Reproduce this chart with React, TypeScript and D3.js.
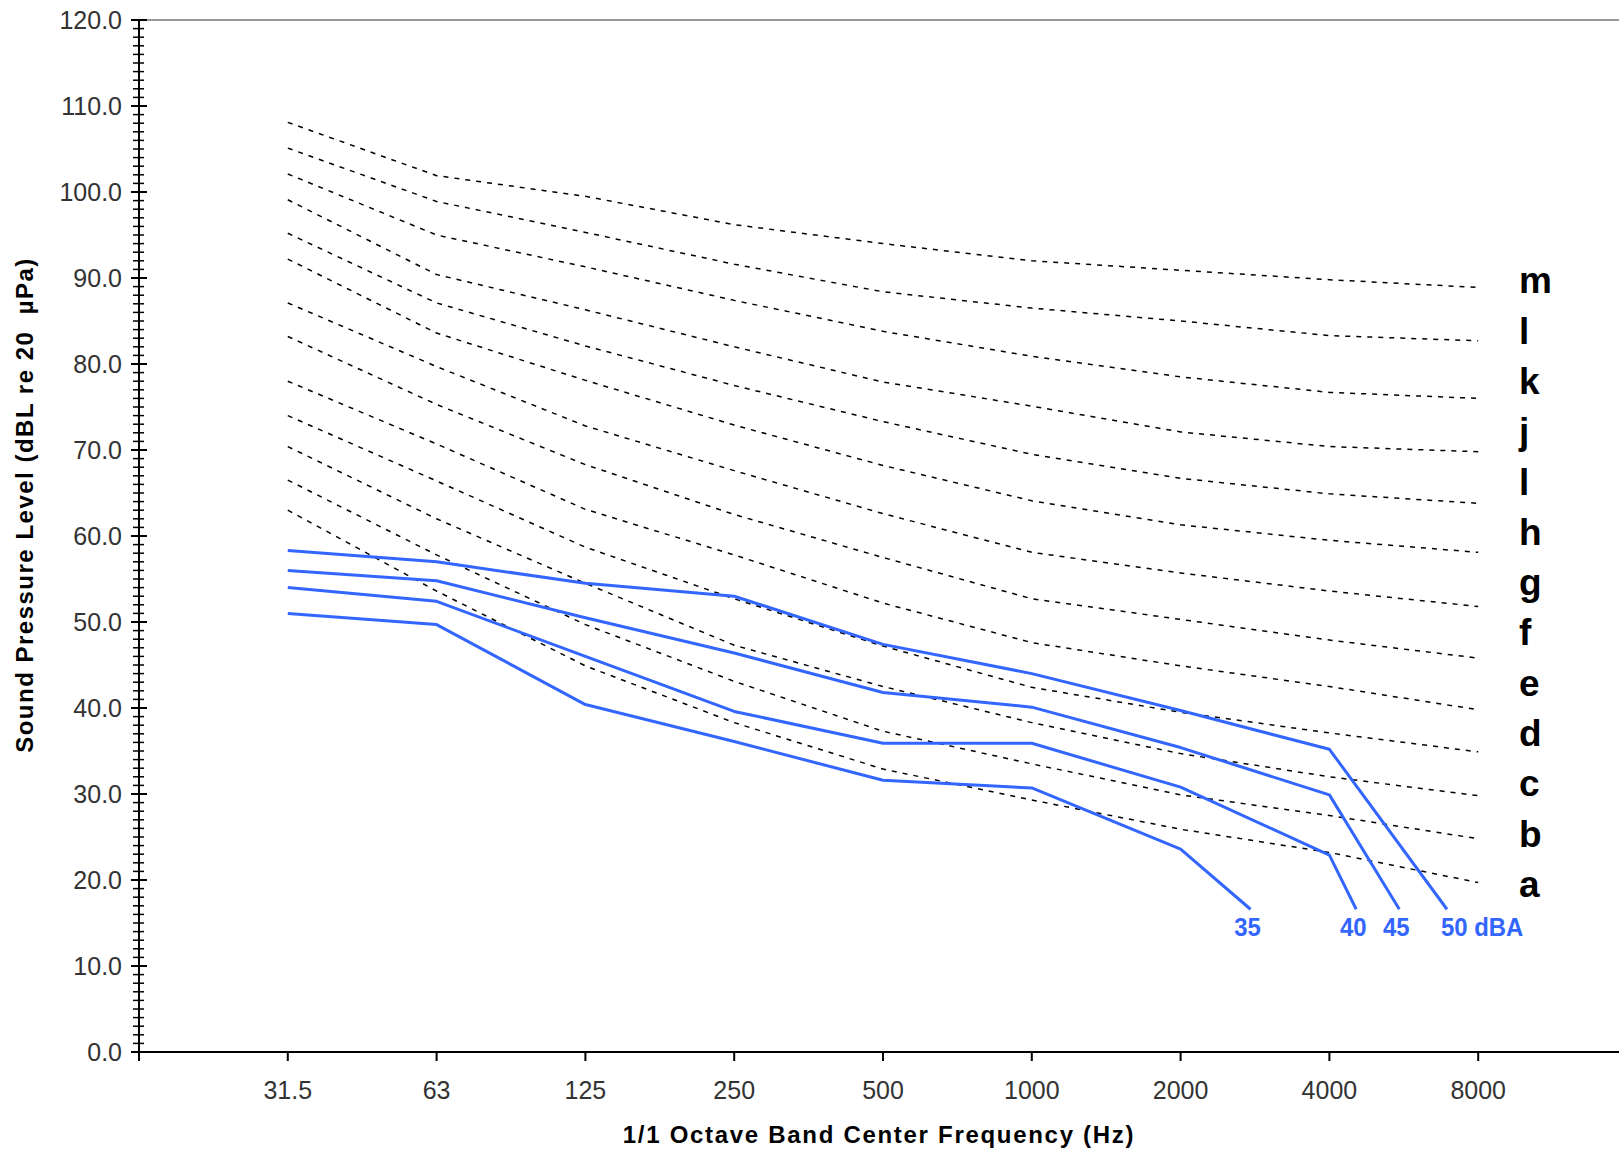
import React from 'react';
import * as d3 from 'd3';

// octave band centre frequencies, drawn at band index 1..9
const bands = ['31.5', '63', '125', '250', '500', '1000', '2000', '4000', '8000'];
const yTicks = [0, 10, 20, 30, 40, 50, 60, 70, 80, 90, 100, 110, 120];

// criteria curves (dashed), levels at each band, a = lowest
const curveA = [63.0, 53.6, 44.9, 38.3, 32.9, 29.3, 25.9, 23.2, 19.7];
const curveB = [66.5, 57.8, 49.7, 43.1, 37.3, 33.5, 29.9, 27.5, 24.8];
const curveC = [70.4, 62.0, 54.5, 47.3, 42.5, 38.3, 34.7, 32.0, 29.8];
const curveD = [74.0, 66.4, 58.7, 52.7, 47.2, 42.4, 39.5, 37.1, 34.9];
const curveE = [78.0, 70.7, 63.1, 57.8, 52.2, 47.6, 44.9, 42.5, 39.8];
const curveF = [83.2, 75.3, 68.3, 62.5, 57.5, 52.7, 50.3, 47.9, 45.8];
const curveG = [87.1, 79.7, 72.8, 67.6, 62.6, 58.1, 55.7, 53.6, 51.8];
const curveH = [92.2, 83.6, 78.1, 72.9, 68.2, 64.1, 61.3, 59.5, 58.1];
const curveI = [95.2, 87.1, 82.1, 77.5, 73.3, 69.5, 66.7, 64.9, 63.8];
const curveJ = [99.1, 90.4, 86.3, 82.0, 77.9, 75.1, 72.1, 70.4, 69.8];
const curveK = [102.1, 95.0, 91.3, 87.4, 83.8, 80.9, 78.5, 76.7, 76.0];
const curveL = [105.1, 98.9, 95.3, 91.6, 88.4, 86.5, 85.0, 83.3, 82.7];
const curveM = [108.1, 101.9, 99.5, 96.2, 94.0, 92.0, 90.9, 89.8, 88.9];
const curves = [curveA, curveB, curveC, curveD, curveE, curveF, curveG, curveH, curveI, curveJ, curveK, curveL, curveM];
const curveNames = ['a', 'b', 'c', 'd', 'e', 'f', 'g', 'h', 'l', 'j', 'k', 'l', 'm'];

// dBA contours (blue), levels at bands from 31.5 Hz, then an end point
const dba35 = [51.0, 49.7, 40.4, 36.1, 31.6, 30.7, 23.6];
const dba40 = [54.0, 52.4, 46.0, 39.6, 35.9, 35.9, 30.8, 22.9];
const dba45 = [56.0, 54.8, 50.5, 46.4, 41.8, 40.1, 35.4, 29.9];
const dba50 = [58.3, 57.0, 54.5, 53.0, 47.4, 44.0, 39.7, 35.2];
const dbaSeries = [dba35, dba40, dba45, dba50];
const dbaLabels = ['35', '40', '45', '50 dBA'];
const dbaEndBand = [7.47, 8.18, 8.47, 8.79];
const dbaEndLevel = 16.6;

const W = 1619;
const H = 1151;
const font = '"Liberation Sans", Arial, sans-serif';
const blue = '#3366ff';

export default function App() {
  const x = d3.scaleLinear().domain([0, 10]).range([139, 1627]);
  const y = d3.scaleLinear().domain([0, 120]).range([1052, 20]);

  const line = d3.line<[number, number]>()
    .x(d => x(d[0]))
    .y(d => y(d[1]));

  const minor = d3.range(0, 121, 1);

  return (
    <svg width={W} height={H} style={{ position: 'absolute', left: 0, top: 0, background: '#fff' }}>
      {/* top frame */}
      <line x1={x(0)} x2={W} y1={y(120)} y2={y(120)} stroke="#999" strokeWidth={2} />

      {/* dashed criteria curves */}
      {curves.map((c, i) => (
        <path key={i} d={line(c.map((v, j) => [j + 1, v]) as [number, number][]) || ''}
          fill="none" stroke="#000" strokeWidth={1.5} strokeDasharray="5,6" />
      ))}

      {/* curve letters */}
      {curveNames.map((n, i) => (
        <text key={i} x={1519} y={280 + (curveNames.length - 1 - i) * 50.3} dy="0.36em"
          fontFamily={font} fontWeight="bold" fontSize={37} fill="#000">{n}</text>
      ))}

      {/* dBA contours */}
      {dbaSeries.map((s, i) => {
        const pts = s.map((v, j) => [j + 1, v] as [number, number]);
        pts.push([dbaEndBand[i], dbaEndLevel]);
        return <path key={i} d={line(pts) || ''} fill="none" stroke={blue} strokeWidth={3} strokeLinejoin="round" />;
      })}
      {dbaLabels.map((t, i) => {
        const ex = x(dbaEndBand[i]);
        const last = i === dbaLabels.length - 1;
        return (
          <text key={i} transform={`translate(${last ? ex - 6 : ex - 3},936) scale(0.92,1)`}
            textAnchor={last ? 'start' : 'middle'} fontFamily={font} fontWeight="bold"
            fontSize={26} fill={blue} style={{ whiteSpace: 'pre' }}>{t}</text>
        );
      })}

      {/* y axis */}
      <line x1={x(0)} x2={x(0)} y1={y(0)} y2={y(120)} stroke="#000" strokeWidth={2} />
      {minor.map(v => (
        v % 10 === 0
          ? <line key={v} x1={x(0) - 8} x2={x(0) + 8} y1={y(v)} y2={y(v)} stroke="#000" strokeWidth={2} />
          : <line key={v} x1={x(0) - 6} x2={x(0) + 5} y1={y(v)} y2={y(v)} stroke="#000" strokeWidth={1.5} />
      ))}
      {yTicks.map(v => (
        <text key={v} x={122} y={y(v)} dy="0.36em" textAnchor="end" fontFamily={font}
          fontSize={25} fill="#333">{v.toFixed(1)}</text>
      ))}

      {/* x axis */}
      <line x1={x(0)} x2={W} y1={y(0)} y2={y(0)} stroke="#000" strokeWidth={2} />
      {d3.range(0, 10).map(i => (
        <line key={i} x1={x(i)} x2={x(i)} y1={y(0)} y2={y(0) + 9} stroke="#000" strokeWidth={2} />
      ))}
      {bands.map((b, i) => (
        <text key={b} x={x(i + 1)} y={1099} textAnchor="middle" fontFamily={font}
          fontSize={25} fill="#333">{b}</text>
      ))}

      {/* titles */}
      <text x={(x(0) + W) / 2} y={1143} textAnchor="middle" fontFamily={font} fontWeight="bold"
        fontSize={24} letterSpacing={1.7} fill="#000">1/1 Octave Band Center Frequency (Hz)</text>
      <text transform="translate(33,505) rotate(-90)" textAnchor="middle" fontFamily={font}
        fontWeight="bold" fontSize={24} letterSpacing={1.5} fill="#000" style={{ whiteSpace: 'pre' }}>
        {'Sound Pressure Level (dBL re 20  µPa)'}
      </text>
    </svg>
  );
}
